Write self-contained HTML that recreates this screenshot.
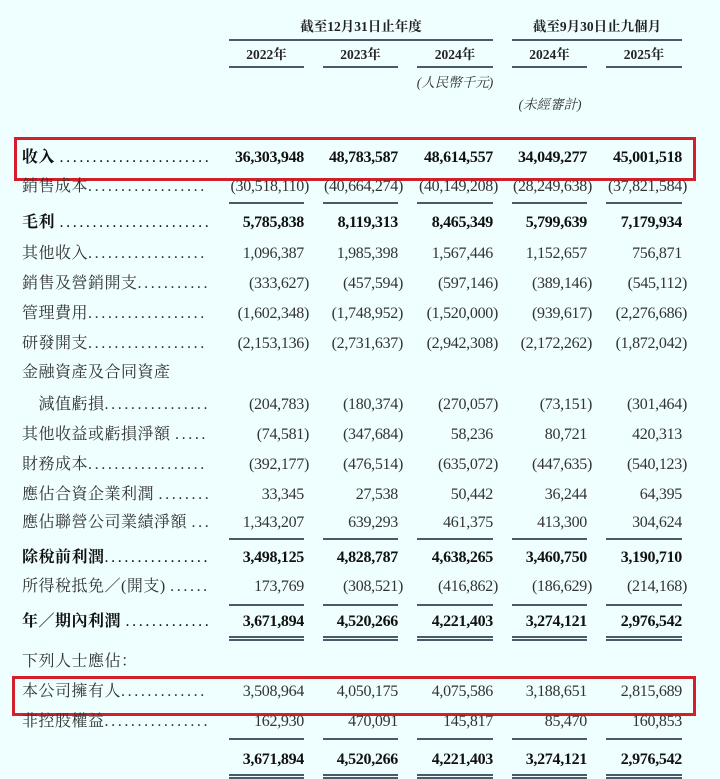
<!DOCTYPE html>
<html><head><meta charset="utf-8"><style>
html,body{margin:0;padding:0}
body{width:720px;height:778px;background:#effefe;position:relative;overflow:hidden;font-family:"Liberation Serif","Noto Serif CJK SC","Noto Sans CJK TC",serif;color:#333}
.a{position:absolute;white-space:nowrap;line-height:20px}
.l{left:22px;width:186px;overflow:hidden;font-size:16px;letter-spacing:0.5px}
.l span{letter-spacing:2.6px;font-weight:normal}
.n{font-size:16px;text-align:right;letter-spacing:-0.3px}
.b{font-weight:bold;color:#111}
.h{font-size:13.5px;font-weight:bold;color:#222;text-align:center}
.ln{position:absolute;height:1.5px;background:#4a5a6a}
.box{position:absolute;border:3px solid #d21f2a}
.it{font-style:italic;font-size:13.5px}
</style></head><body>
<div class="a h" style="left:229px;width:264px;top:17px">截至12月31日止年度</div>
<div class="a h" style="left:512px;width:170px;top:17px">截至9月30日止九個月</div>
<div class="ln" style="left:229px;width:264px;top:39px"></div>
<div class="ln" style="left:512px;width:170px;top:39px"></div>
<div class="a h" style="left:229px;width:75px;top:45px">2022年</div>
<div class="a h" style="left:323px;width:75px;top:45px">2023年</div>
<div class="a h" style="left:417px;width:76px;top:45px">2024年</div>
<div class="a h" style="left:512px;width:75px;top:45px">2024年</div>
<div class="a h" style="left:606px;width:76px;top:45px">2025年</div>
<div class="ln" style="left:229px;width:75px;top:66px"></div>
<div class="ln" style="left:323px;width:75px;top:66px"></div>
<div class="ln" style="left:417px;width:76px;top:66px"></div>
<div class="ln" style="left:512px;width:75px;top:66px"></div>
<div class="ln" style="left:606px;width:76px;top:66px"></div>
<div class="a it" style="left:412px;width:86px;top:73px;text-align:center">(人民幣千元)</div>
<div class="a it" style="left:505px;width:90px;top:95px;text-align:center">(未經審計)</div>
<div class="box" style="left:14px;top:137px;width:676px;height:38px"></div>
<div class="box" style="left:12px;top:676px;width:678px;height:34px"></div>
<div id="rows"></div>
<script>
var D='<span>..............................</span>';
var R=[
["收入 "+D,158,1,["36,303,948","48,783,587","48,614,557","34,049,277","45,001,518"]],
["銷售成本"+D,187,0,["(30,518,110)","(40,664,274)","(40,149,208)","(28,249,638)","(37,821,584)"]],
["毛利 "+D,223,1,["5,785,838","8,119,313","8,465,349","5,799,639","7,179,934"]],
["其他收入"+D,254,0,["1,096,387","1,985,398","1,567,446","1,152,657","756,871"]],
["銷售及營銷開支"+D,284,0,["(333,627)","(457,594)","(597,146)","(389,146)","(545,112)"]],
["管理費用"+D,314,0,["(1,602,348)","(1,748,952)","(1,520,000)","(939,617)","(2,276,686)"]],
["研發開支"+D,344,0,["(2,153,136)","(2,731,637)","(2,942,308)","(2,172,262)","(1,872,042)"]],
["金融資產及合同資產",373,0,null],
["　減值虧損"+D,405,0,["(204,783)","(180,374)","(270,057)","(73,151)","(301,464)"]],
["其他收益或虧損淨額 "+D,435,0,["(74,581)","(347,684)","58,236","80,721","420,313"]],
["財務成本"+D,465,0,["(392,177)","(476,514)","(635,072)","(447,635)","(540,123)"]],
["應佔合資企業利潤 "+D,495,0,["33,345","27,538","50,442","36,244","64,395"]],
["應佔聯營公司業績淨額 "+D,523,0,["1,343,207","639,293","461,375","413,300","304,624"]],
["除稅前利潤"+D,558,1,["3,498,125","4,828,787","4,638,265","3,460,750","3,190,710"]],
["所得稅抵免／(開支) "+D,587,0,["173,769","(308,521)","(416,862)","(186,629)","(214,168)"]],
["年／期內利潤 "+D,622,1,["3,671,894","4,520,266","4,221,403","3,274,121","2,976,542"]],
["下列人士應佔：",662,0,null],
["本公司擁有人"+D,692,0,["3,508,964","4,050,175","4,075,586","3,188,651","2,815,689"]],
["非控股權益"+D,722,0,["162,930","470,091","145,817","85,470","160,853"]],
["",760,1,["3,671,894","4,520,266","4,221,403","3,274,121","2,976,542"]]];
var C=[304,398,493,587,682],h="";
R.forEach(function(r){var t=r[1]-10;
 if(r[0])h+='<div class="a l'+(r[2]?' b':'')+'" style="top:'+t+'px">'+r[0]+'</div>';
 if(r[3])r[3].forEach(function(v,i){var rt=C[i]+(v[0]=="("?5:0);
  h+='<div class="a n'+(r[2]?' b':'')+'" style="top:'+t+'px;right:'+(720-rt)+'px">'+v+'</div>';});});
var L=[[202,0],[538,0],[604,0],[636,1],[738,0],[774,1]],W=[75,75,76,75,76],X=[229,323,417,512,606];
L.forEach(function(l){for(var i=0;i<5;i++){h+='<div class="ln" style="left:'+X[i]+'px;width:'+W[i]+'px;top:'+l[0]+'px"></div>';
 if(l[1])h+='<div class="ln" style="left:'+X[i]+'px;width:'+W[i]+'px;top:'+(l[0]+3)+'px"></div>';}});
document.getElementById("rows").innerHTML=h;
</script>
</body></html>
